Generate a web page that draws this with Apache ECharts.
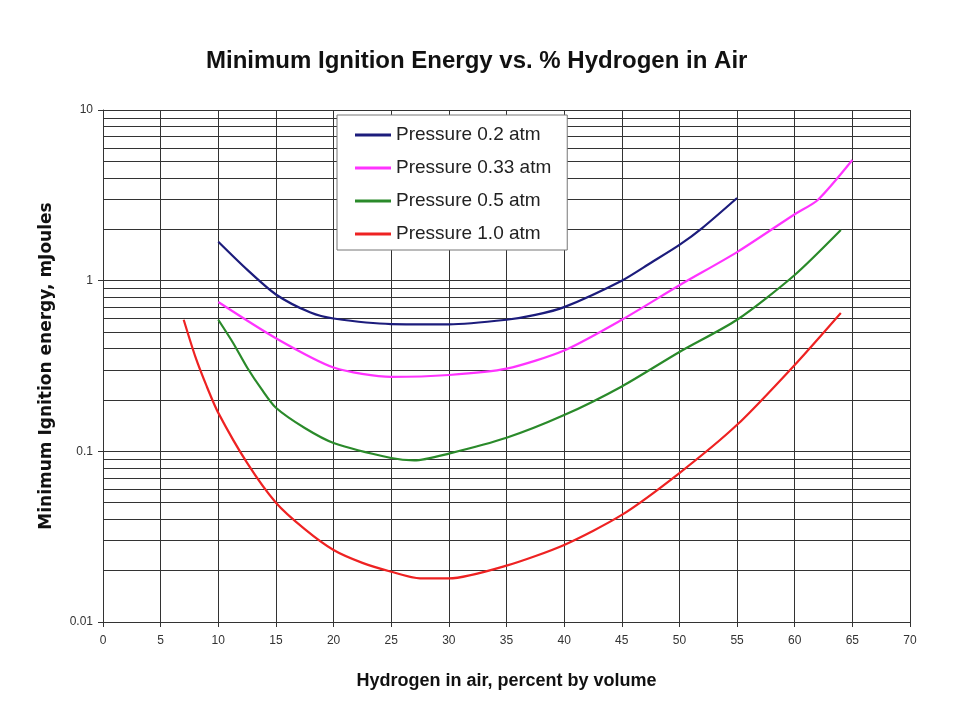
<!DOCTYPE html>
<html>
<head>
<meta charset="utf-8">
<script src="https://cdn.jsdelivr.net/npm/echarts@6/dist/echarts.min.js"></script>
<style>
  html, body { margin: 0; padding: 0; background: #fff; }
  #chart { width: 980px; height: 710px; }
</style>
</head>
<body>
<div id="chart"></div>
<script>
// series names
const names = ['Pressure 0.2 atm', 'Pressure 0.33 atm', 'Pressure 0.5 atm', 'Pressure 1.0 atm'];
const colors = ['#1c1c7c', '#ff33ff', '#2a8a2a', '#ee2222'];

// hydrogen % / energy mJ
const p02 = [[10, 1.69], [12.5, 1.16], [15, 0.83], [18, 0.65], [20, 0.60], [25, 0.557], [30, 0.555], [35, 0.59], [37.5, 0.63], [40, 0.70], [45, 1.0], [47.5, 1.27], [50, 1.62], [52, 2.04], [55, 3.05]];
const p033 = [[10, 0.75], [15, 0.46], [20, 0.31], [25, 0.273], [30, 0.28], [35, 0.305], [40, 0.39], [45, 0.59], [50, 0.94], [55, 1.47], [60, 2.45], [62, 2.97], [65, 5.09]];
const p05 = [[10, 0.59], [11.3, 0.43], [12.5, 0.31], [13.8, 0.229], [15, 0.18], [17.5, 0.137], [20, 0.112], [25, 0.0914], [27, 0.0885], [30, 0.097], [35, 0.12], [40, 0.163], [45, 0.24], [50, 0.382], [55, 0.59], [60, 1.08], [64, 1.98]];
const p10 = [[7, 0.59], [8, 0.36], [9, 0.24], [10, 0.168], [12.5, 0.0855], [15, 0.05], [17.5, 0.035], [20, 0.0264], [22.5, 0.0222], [25, 0.0197], [27.5, 0.018], [30, 0.018], [35, 0.0214], [40, 0.0283], [45, 0.0424], [50, 0.0746], [55, 0.143], [60, 0.321], [64, 0.647]];
const seriesData = [p02, p033, p05, p10];

// minor log grid lines 2..9 in each decade
const minorGrid = [];
[0.01, 0.1, 1].forEach(function (d) {
  for (let k = 2; k <= 9; k++) minorGrid.push({ yAxis: +(d * k).toPrecision(3) });
});

const chart = echarts.init(document.getElementById('chart'));

const series = seriesData.map(function (d, i) {
  return {
    name: names[i],
    type: 'line',
    data: d,
    smooth: 0.25,
    symbol: 'none',
    lineStyle: { color: colors[i], width: 2.2 },
    itemStyle: { color: colors[i] },
    z: 5
  };
});
series.push({
  type: 'line',
  data: [],
  silent: true,
  markLine: {
    silent: true,
    symbol: ['none', 'none'],
    label: { show: false },
    lineStyle: { color: '#333', width: 1, type: 'solid' },
    data: minorGrid
  }
});

chart.setOption({
  animation: false,
  title: {
    text: 'Minimum Ignition Energy vs. % Hydrogen in Air',
    left: 201,
    top: 44,
    textStyle: { fontFamily: 'Liberation Sans', fontSize: 24, fontWeight: 'bold', color: '#111' }
  },
  legend: {
    orient: 'vertical',
    left: 337,
    top: 115,
    zlevel: 1,
    z: 20,
    padding: [10, 16, 6, 18],
    itemGap: 13,
    itemWidth: 36,
    itemHeight: 3,
    icon: 'rect',
    backgroundColor: '#fff',
    borderColor: '#777',
    borderWidth: 1,
    data: names,
    textStyle: { fontFamily: 'Liberation Sans', fontSize: 19, lineHeight: 20, color: '#222' }
  },
  grid: { left: 103, right: 70, top: 110, bottom: 88 },
  xAxis: {
    type: 'value',
    min: 0,
    max: 70,
    interval: 5,
    name: 'Hydrogen in air, percent by volume',
    nameLocation: 'middle',
    nameGap: 50,
    nameTextStyle: { fontFamily: 'Liberation Sans', fontSize: 18, fontWeight: 'bold', color: '#111' },
    axisLine: { lineStyle: { color: '#333' } },
    axisTick: { show: true, length: 5, lineStyle: { color: '#333' } },
    axisLabel: { margin: 13, fontFamily: 'Liberation Sans', fontSize: 12, color: '#333' },
    splitLine: { show: true, lineStyle: { color: '#333', width: 1 } }
  },
  yAxis: {
    type: 'log',
    logBase: 10,
    min: 0.01,
    max: 10,
    name: 'Minimum Ignition energy, mJoules',
    nameLocation: 'middle',
    nameGap: 48,
    nameTextStyle: { fontFamily: 'DejaVu Sans', fontSize: 17, fontWeight: 'bold', color: '#111' },
    axisLine: { show: true, lineStyle: { color: '#333' } },
    axisTick: { show: true, length: 5, lineStyle: { color: '#333' } },
    axisLabel: {
      margin: 10,
      fontFamily: 'Liberation Sans',
      fontSize: 12,
      color: '#333',
      formatter: function (v) { return String(+v.toPrecision(3)); }
    },
    splitLine: { show: true, lineStyle: { color: '#333', width: 1 } }
  },
  series: series
});
</script>
</body>
</html>
